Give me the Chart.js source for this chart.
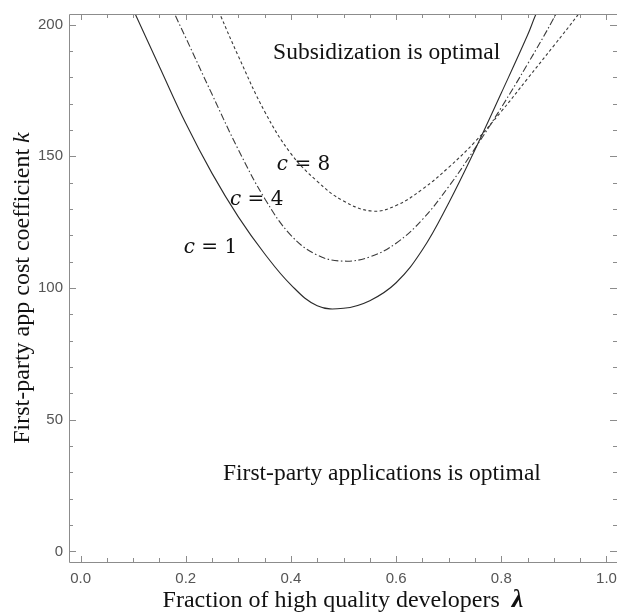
<!DOCTYPE html>
<html><head><meta charset="utf-8">
<script src="https://cdn.jsdelivr.net/npm/chart.js@4.4.1/dist/chart.umd.min.js"></script>
<style>html,body{margin:0;padding:0;background:#fff}#wrap{width:617px;height:613px}</style>
</head><body><div id="wrap"><canvas id="c" width="617" height="613"></canvas></div>
<script>
// Curve c = 1 (solid)
const lambdaC1 = [0.09, 0.105, 0.15, 0.2, 0.25, 0.3, 0.35, 0.4, 0.45, 0.5, 0.55, 0.6, 0.65, 0.7, 0.75, 0.8, 0.85, 0.865, 0.88];
const kC1      = [210, 203.5, 184, 162.5, 143.5, 127, 113, 101.2, 93.3, 92.3, 95.2, 102, 114.5, 132.3, 152.5, 174, 196, 203.5, 210];
// Curve c = 4 (dash-dot)
const lambdaC4 = [0.17, 0.18, 0.2, 0.25, 0.3, 0.35, 0.4, 0.45, 0.5, 0.55, 0.6, 0.65, 0.7, 0.75, 0.8, 0.85, 0.9, 0.915];
const kC4      = [208, 203.5, 195, 173.5, 152.5, 134, 120, 112.5, 110.2, 111.8, 117, 126, 138.5, 153, 168.5, 185, 202.5, 209];
// Curve c = 8 (dotted)
const lambdaC8 = [0.255, 0.266, 0.3, 0.35, 0.4, 0.45, 0.5, 0.555, 0.6, 0.65, 0.7, 0.75, 0.8, 0.85, 0.9, 0.945, 0.96];
const kC8      = [209, 203.5, 188, 167, 151, 140.5, 133, 129.2, 131.3, 137.5, 145.8, 155.5, 167, 179.5, 192, 203.5, 208];

const xTickLabels = [0.0, 0.2, 0.4, 0.6, 0.8, 1.0];
const yTickLabels = [0, 50, 100, 150, 200];
const xMinorTicks = [0, 0.05, 0.1, 0.15, 0.2, 0.25, 0.3, 0.35, 0.4, 0.45, 0.5, 0.55, 0.6, 0.65, 0.7, 0.75, 0.8, 0.85, 0.9, 0.95, 1.0];
const yMinorTicks = [0, 10, 20, 30, 40, 50, 60, 70, 80, 90, 100, 110, 120, 130, 140, 150, 160, 170, 180, 190, 200];

const curveNames  = ["1", "4", "8"];
const curveLabelX = [0.247, 0.335, 0.424];
const curveLabelY = [115.2, 133.5, 146.8];
const regionTexts = ["Subsidization is optimal", "First-party applications is optimal"];
const regionX     = [0.582, 0.573];
const regionY     = [189.2, 29.3];

const xTitle = "Fraction of high quality developers";
const xTitleSym = "λ";
const yTitle = "First-party app cost coefficient ";
const yTitleSym = "k";

const toPts = (xs, ys) => xs.map((x, i) => ({x: x, y: ys[i]}));

const framePlugin = {
  id: 'frame',
  afterDraw(chart) {
    const {ctx, chartArea: a, scales: {x, y}} = chart;
    ctx.save();
    ctx.strokeStyle = '#8c8c8c';
    ctx.lineWidth = 1;
    ctx.beginPath();
    ctx.moveTo(a.left + 0.5, a.top + 0.5);
    ctx.lineTo(a.left + 0.5, a.bottom + 0.5);
    ctx.lineTo(a.right, a.bottom + 0.5);
    ctx.moveTo(a.left + 0.5, a.top + 0.5);
    ctx.lineTo(a.right, a.top + 0.5);
    ctx.stroke();
    // ticks (inward)
    ctx.beginPath();
    xMinorTicks.forEach(v => {
      const px = Math.round(x.getPixelForValue(v)) + 0.5;
      const major = xTickLabels.some(t => Math.abs(t - v) < 1e-9);
      const L = major ? 6 : 4;
      ctx.moveTo(px, a.bottom); ctx.lineTo(px, a.bottom - L);
      ctx.moveTo(px, a.top); ctx.lineTo(px, a.top + L);
    });
    yMinorTicks.forEach(v => {
      const py = Math.round(y.getPixelForValue(v)) + 0.5;
      const major = yTickLabels.some(t => Math.abs(t - v) < 1e-9);
      const L = major ? 7 : 4;
      ctx.moveTo(a.left, py); ctx.lineTo(a.left + L, py);
      ctx.moveTo(a.right, py); ctx.lineTo(a.right - L, py);
    });
    ctx.stroke();

    // region texts
    ctx.fillStyle = '#111';
    ctx.font = '23.5px "Liberation Serif"';
    ctx.textAlign = 'center';
    ctx.textBaseline = 'middle';
    regionTexts.forEach((t, i) => {
      ctx.fillText(t, x.getPixelForValue(regionX[i]), y.getPixelForValue(regionY[i]));
    });

    // curve labels: italic c = N
    ctx.textBaseline = 'middle';
    ctx.textAlign = 'left';
    curveNames.forEach((n, i) => {
      const cx = x.getPixelForValue(curveLabelX[i]);
      const cy = y.getPixelForValue(curveLabelY[i]);
      ctx.font = 'italic 20px "DejaVu Serif"';
      const w1 = ctx.measureText('c').width;
      ctx.font = '20px "DejaVu Serif"';
      const rest = ' = ' + n;
      const w2 = ctx.measureText(rest).width;
      const start = cx - (w1 + w2) / 2;
      ctx.font = 'italic 20px "DejaVu Serif"';
      ctx.fillText('c', start, cy);
      ctx.font = '20px "DejaVu Serif"';
      ctx.fillText(rest, start + w1, cy);
    });

    // x title
    ctx.textBaseline = 'alphabetic';
    ctx.font = '24px "Liberation Serif"';
    const wA = ctx.measureText(xTitle + '  ').width;
    ctx.font = 'italic bold 26px "Liberation Serif"';
    const wB = ctx.measureText(xTitleSym).width;
    const xc = (a.left + a.right) / 2;
    let sx = xc - (wA + wB) / 2;
    ctx.font = '24px "Liberation Serif"';
    ctx.fillText(xTitle + '  ', sx, 607);
    ctx.font = 'italic bold 26px "Liberation Serif"';
    ctx.fillText(xTitleSym, sx + wA, 607);

    // y title (rotated)
    ctx.save();
    ctx.translate(29, (a.top + a.bottom) / 2);
    ctx.rotate(-Math.PI / 2);
    ctx.font = '24px "Liberation Serif"';
    const wy1 = ctx.measureText(yTitle).width;
    ctx.font = 'italic 24px "Liberation Serif"';
    const wy2 = ctx.measureText(yTitleSym).width;
    let sy = -(wy1 + wy2) / 2;
    ctx.font = '24px "Liberation Serif"';
    ctx.fillText(yTitle, sy, 0);
    ctx.font = 'italic 24px "Liberation Serif"';
    ctx.fillText(yTitleSym, sy + wy1, 0);
    ctx.restore();

    ctx.restore();
  }
};

const lineBase = {showLine: true, pointRadius: 0, borderWidth: 1.1, fill: false, tension: 0.4};

new Chart(document.getElementById('c'), {
  type: 'scatter',
  data: {
    datasets: [
      Object.assign({label: 'c = 1', data: toPts(lambdaC1, kC1), borderColor: '#2a2a2a'}, lineBase),
      Object.assign({label: 'c = 4', data: toPts(lambdaC4, kC4), borderColor: '#3a3a3a', borderDash: [7, 2.5, 1.5, 2.5]}, lineBase),
      Object.assign({label: 'c = 8', data: toPts(lambdaC8, kC8), borderColor: '#3a3a3a', borderDash: [3, 2.5]}, lineBase)
    ]
  },
  options: {
    responsive: false,
    animation: false,
    devicePixelRatio: 1,
    layout: {autoPadding: false, padding: {left: 0, top: 14, right: 0, bottom: 0}},
    plugins: {legend: {display: false}, tooltip: {enabled: false}},
    scales: {
      x: {
        type: 'linear', min: -0.022, max: 1.02,
        grid: {display: false, drawTicks: false},
        border: {display: false},
        afterBuildTicks: s => { s.ticks = xTickLabels.map(v => ({value: v})); },
        afterFit: s => { s.height = 51; s.paddingLeft = 0; s.paddingRight = 0; },
        ticks: {padding: 8, autoSkip: false, maxRotation: 0, color: '#555',
                font: {family: '"Liberation Sans", Arial', size: 15},
                callback: v => Number(v).toFixed(1)}
      },
      y: {
        type: 'linear', min: -4, max: 204,
        grid: {display: false, drawTicks: false},
        border: {display: false},
        afterBuildTicks: s => { s.ticks = yTickLabels.map(v => ({value: v})); },
        afterFit: s => { s.width = 69; s.paddingTop = 0; s.paddingBottom = 0; },
        ticks: {padding: 6, autoSkip: false, color: '#555',
                font: {family: '"Liberation Sans", Arial', size: 15},
                callback: v => String(v)}
      }
    }
  },
  plugins: [framePlugin]
});
</script></body></html>
